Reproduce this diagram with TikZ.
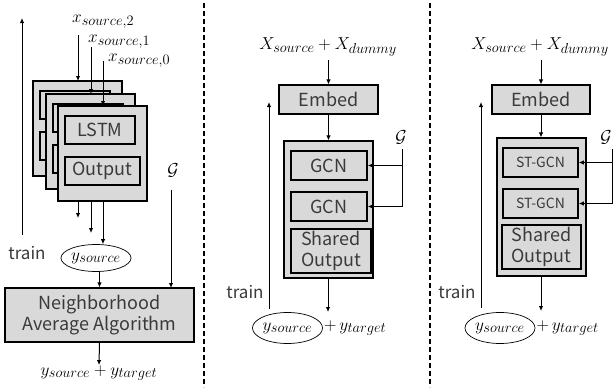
\documentclass[tikz,border=0pt]{standalone}
\usepackage{fontspec}
\newfontfamily\gothic{Noto Sans CJK JP}
\usetikzlibrary{arrows.meta,shapes.geometric}
\DeclareMathSizes{18}{18}{14}{11}
\definecolor{boxgray}{HTML}{D9D9D9}
\definecolor{txt}{HTML}{3A3A3A}
\begin{document}
\begin{tikzpicture}[x=1pt,y=-1pt,
  box/.style={draw=black, fill=boxgray, line width=1.1pt, inner sep=0pt, text=txt, font=\gothic\fontsize{18}{22}\selectfont, align=center},
  inbox/.style={box, line width=1.6pt},
  arr/.style={line width=1pt, -{Latex[length=5pt,width=4.5pt]}},
  sep/.style={line width=1.1pt, dash pattern=on 5pt off 3pt},
  mlbl/.style={inner sep=0pt, font=\fontsize{18}{21}\selectfont},
  tlbl/.style={inner sep=0pt, text=txt, font=\gothic\fontsize{17}{20}\selectfont},
  ell/.style={draw=black, ellipse, line width=0.7pt, inner sep=0pt, font=\fontsize{18}{21}\selectfont}
]
\useasboundingbox (0,0) rectangle (614,389);
% ---------- Left panel ----------
\node[box, minimum width=89pt, minimum height=95pt] (b1) at (77.5,128.5) {};
\node[inbox, minimum width=70pt, minimum height=28pt] (b1l) at (75,105) {};
\node[inbox, minimum width=75pt, minimum height=28pt] (b1o) at (77.5,146) {};
\draw[arr] (78,176) -- (78,218);
\node[box, minimum width=89pt, minimum height=95pt] (b2) at (90.5,141.5) {};
\node[inbox, minimum width=70pt, minimum height=28pt] (b2l) at (88,118) {};
\node[inbox, minimum width=75pt, minimum height=28pt] (b2o) at (90.5,159) {};
\draw[arr] (91,189) -- (91,233);
\node[box, minimum width=89pt, minimum height=95pt] (b3) at (102.5,153.5) {};
\node[inbox, minimum width=70pt, minimum height=28pt] (lstm) at (100,130) {LSTM};
\node[inbox, minimum width=75pt, minimum height=28pt] (outp) at (102.5,171) {Output};
\node[ell, minimum width=67pt, minimum height=27pt] (ysl) at (96,258) {$y_{source}$};
\draw[arr] (103,201) -- (ysl.north -| 103,0);
% inputs
\node[mlbl, anchor=west] (x2) at (72,22) {$x_{source,2}$};
\node[mlbl, anchor=west] (x1) at (88,42) {$x_{source,1}$};
\node[mlbl, anchor=west] (x0) at (108,61) {$x_{source,0}$};
\draw[arr] (78,35) -- (78,81);
\draw[arr] (91,47) -- (91,94);
\draw[arr] (103,61) -- (103,106);
% train
\coordinate (trL0) at (22,235);
\coordinate (trL1) at (22,18);
\draw[arr] (trL0) -- (trL1);
\node[tlbl] (trLt) at (27,253) {train};
% NAA
\node[box, minimum width=189pt, minimum height=54pt, font=\gothic\fontsize{18}{21}\selectfont] (naa) at (99.5,315) {Neighborhood\\Average Algorithm};
\draw[arr] (naa.north |- ysl.south) -- (naa.north);
\node[mlbl] (gl) at (173,170) {$\mathcal{G}$};
\draw[arr] (171,190) -- (171,288);
\node[mlbl] (outl) at (99,373) {$y_{source}+y_{target}$};
\draw[arr] (naa.south) -- (outl.north);
% separators
\draw[sep] (204,3) -- (204,387);
\draw[sep] (430,3) -- (430,387);
% ---------- Middle panel ----------
\node[mlbl] (inm) at (328,47) {$X_{source}+X_{dummy}$};
\node[box, minimum width=99pt, minimum height=29pt] (embm) at (328.5,99.5) {Embed};
\draw[arr] (328.5,60) -- (embm.north);
\node[box, minimum width=89pt, minimum height=137pt] (bigm) at (328.5,209.5) {};
\draw[arr] (embm.south) -- (bigm.north);
\node[inbox, minimum width=76pt, minimum height=29pt] (gcn1) at (329,165.5) {GCN};
\node[inbox, minimum width=76pt, minimum height=29pt] (gcn2) at (329,206.5) {GCN};
\node[inbox, minimum width=80pt, minimum height=44pt, font=\gothic\fontsize{18}{21}\selectfont] (shm) at (331,251) {Shared\\Output};
\node[mlbl] (gm) at (401,137) {$\mathcal{G}$};
\coordinate (gmt) at (402,149);
\draw[arr] (gmt) |- (gcn2.east);
\draw[arr] (gmt |- gcn1.east) -- (gcn1.east);
\coordinate (trM0) at (269,309);
\coordinate (trM1) at (269,102);
\draw[arr] (trM0) -- (trM1);
\node[tlbl] (trMt) at (245,292) {train};
\node[ell, minimum width=68pt, minimum height=31pt] (ysm) at (287.5,328) {$y_{source}$};
\node[mlbl, anchor=west] (ytm) at ([xshift=1pt]ysm.east) {$+\,y_{target}$};
\draw[arr] (bigm.south -| 328,0) -- (328,312);
% ---------- Right panel ----------
\node[mlbl] (inr) at (540,47) {$X_{source}+X_{dummy}$};
\node[box, minimum width=98pt, minimum height=29pt] (embr) at (541,99.5) {Embed};
\draw[arr] (541,60) -- (embr.north);
\node[box, minimum width=89pt, minimum height=138pt] (bigr) at (541.5,207) {};
\draw[arr] (embr.south) -- (embr.south |- bigr.north);
\node[inbox, minimum width=75pt, minimum height=29pt, font=\gothic\fontsize{14}{17}\selectfont] (st1) at (540.5,162.5) {ST-GCN};
\node[inbox, minimum width=75pt, minimum height=29pt, font=\gothic\fontsize{14}{17}\selectfont] (st2) at (540.5,203.5) {ST-GCN};
\node[inbox, minimum width=79pt, minimum height=44pt, font=\gothic\fontsize{18}{21}\selectfont] (shr) at (541.5,247) {Shared\\Output};
\node[mlbl] (gr) at (606,137) {$\mathcal{G}$};
\coordinate (grt) at (612,149);
\draw[arr] (grt) |- (st2.east);
\draw[arr] (grt |- st1.east) -- (st1.east);
\coordinate (trR0) at (481,308);
\coordinate (trR1) at (481,102);
\draw[arr] (trR0) -- (trR1);
\node[tlbl] (trRt) at (457,292) {train};
\node[ell, minimum width=70pt, minimum height=31pt] (ysr) at (500,328) {$y_{source}$};
\node[mlbl, anchor=west] (ytr) at ([xshift=1pt]ysr.east) {$+\,y_{target}$};
\draw[arr] (541,276) -- (541,311);
\end{tikzpicture}
\end{document}
